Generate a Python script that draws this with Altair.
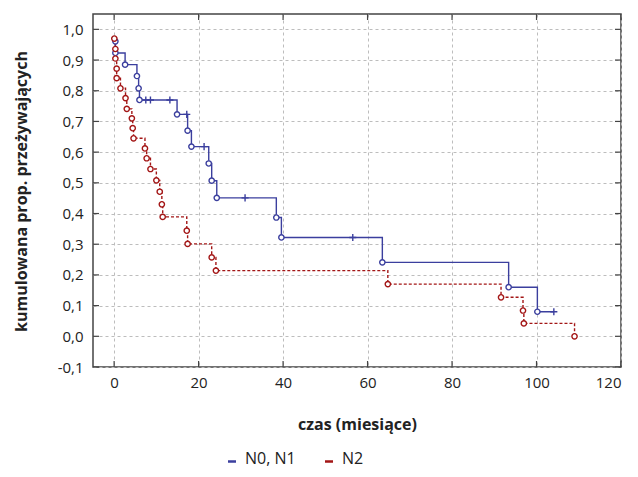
import altair as alt
import pandas as pd

# --- data (Kaplan-Meier curves) ---
groups = ["N0, N1", "N2"]
colors = ["#3b3f9e", "#a31616"]

blue_x = [0.3, 0.3, 2.6, 5.4, 5.8, 6.0, 7.5, 8.6, 13.2, 14.9, 17.2, 17.4, 18.3, 21.3,
          22.4, 23.1, 24.3, 31.0, 38.4, 39.6, 56.5, 63.5, 93.4, 100.2, 104.1]
blue_y = [0.961, 0.923, 0.885, 0.848, 0.808, 0.770, 0.770, 0.770, 0.770, 0.723, 0.723,
          0.670, 0.618, 0.618, 0.563, 0.507, 0.451, 0.451, 0.387, 0.322, 0.322, 0.241,
          0.160, 0.080, 0.080]
blue_kind = ["e", "e", "e", "e", "e", "e", "c", "c", "c", "e", "c", "e", "e", "c",
             "e", "e", "e", "c", "e", "e", "c", "e", "e", "e", "c"]

red_x = [0.05, 0.3, 0.3, 0.6, 0.6, 1.5, 2.7, 3.0, 4.2, 4.4, 4.6, 7.3, 7.7, 8.6, 10.0,
         10.8, 11.3, 11.5, 17.2, 17.4, 23.1, 24.1, 64.8, 91.6, 96.8, 97.0, 109.0]
red_y = [0.970, 0.936, 0.905, 0.872, 0.841, 0.808, 0.776, 0.741, 0.710, 0.678, 0.645,
         0.612, 0.580, 0.545, 0.508, 0.471, 0.430, 0.389, 0.344, 0.301, 0.257, 0.214,
         0.170, 0.127, 0.084, 0.042, 0.0]
red_kind = ["e"] * len(red_x)

x_ticks = [0, 20, 40, 60, 80, 100, 120]
y_ticks = [-0.1, 0.0, 0.1, 0.2, 0.3, 0.4, 0.5, 0.6, 0.7, 0.8, 0.9, 1.0]

rows = []
for i, (x, y, k) in enumerate(zip(blue_x, blue_y, blue_kind)):
    rows.append({"t": x, "s": y, "g": groups[0], "k": k, "i": i})
for i, (x, y, k) in enumerate(zip(red_x, red_y, red_kind)):
    rows.append({"t": x, "s": y, "g": groups[1], "k": k, "i": i})
df = pd.DataFrame(rows)

W, H = 528, 353
FONT = "Open Sans"
FRAME = "#444444"

xs = alt.Scale(domain=[-5, 120], nice=False, zero=False)
ys = alt.Scale(domain=[-0.1, 1.05], nice=False, zero=False)

x_axis = alt.Axis(values=x_ticks, grid=True, gridDash=[3, 3], gridColor="#bdbdbd",
                  gridWidth=1, domain=False, ticks=False, labelFontSize=15,
                  labelColor="#222222", labelPadding=8, labelFont=FONT,
                  titleFont=FONT, titleFontSize=16, titleFontWeight="bold",
                  titleColor="#222222", titleX=264, titleY=57,
                  titleBaseline="middle", titleAlign="center")
y_axis = alt.Axis(values=y_ticks, grid=True, gridDash=[3, 3], gridColor="#bdbdbd",
                  gridWidth=1, domain=False, ticks=False, labelFontSize=15,
                  labelColor="#222222", labelPadding=10, labelFont=FONT,
                  labelExpr="(datum.value < 0 ? '-' : '') + replace(format(abs(datum.value), '.1f'), '.', ',')",
                  titleFont=FONT, titleFontSize=16, titleFontWeight="bold",
                  titleColor="#222222", titleX=-72, titleY=177,
                  titleBaseline="middle", titleAlign="center", titleAngle=270)

X = alt.X("t:Q", scale=xs, axis=x_axis, title="czas (miesiące)")
Y = alt.Y("s:Q", scale=ys, axis=y_axis, title="kumulowana prop. przeżywających")

legend = alt.Legend(orient="none", legendX=131, legendY=437, direction="horizontal",
                    title=None, symbolType="M-1,0.6H1", symbolSize=64,
                    symbolStrokeWidth=2.5, symbolDash=[1, 0], labelFont=FONT,
                    labelFontSize=16, labelColor="#222222", columnPadding=24,
                    labelOffset=5)
C = alt.Color("g:N", scale=alt.Scale(domain=groups, range=colors), legend=legend)

base = alt.Chart(df)

line_blue = base.transform_filter(alt.datum.g == groups[0]).mark_line(
    interpolate="step-after", strokeWidth=1.4
).encode(x=X, y=Y, color=C, order="i:Q")

line_red = base.transform_filter(alt.datum.g == groups[1]).mark_line(
    interpolate="step-after", strokeWidth=1.4, strokeDash=[3, 2]
).encode(x=X, y=Y, color=C, order="i:Q")

events = base.transform_filter(alt.datum.k == "e").mark_point(
    shape="circle", filled=False, fill="white", size=28, strokeWidth=1.4, opacity=1
).encode(x=X, y=Y, color=C)

censored = base.transform_filter(alt.datum.k == "c").mark_point(
    shape="M0,-1V1M-1,0H1", filled=False, size=50, strokeWidth=1.4, opacity=1
).encode(x=X, y=Y, color=C)

xt = pd.DataFrame({"t": x_ticks})
yt = pd.DataFrame({"s": y_ticks})
tick_x_bottom = alt.Chart(xt).mark_rule(color=FRAME, strokeWidth=1.2).encode(
    x=X, y=alt.value(H), y2=alt.value(H - 6))
tick_x_top = alt.Chart(xt).mark_rule(color=FRAME, strokeWidth=1.2).encode(
    x=X, y=alt.value(0), y2=alt.value(6))
tick_y_left = alt.Chart(yt).mark_rule(color=FRAME, strokeWidth=1.2).encode(
    y=Y, x=alt.value(0), x2=alt.value(6))
tick_y_right = alt.Chart(yt).mark_rule(color=FRAME, strokeWidth=1.2).encode(
    y=Y, x=alt.value(W), x2=alt.value(W - 6))

chart = alt.layer(
    line_blue, line_red, events, censored,
    tick_x_bottom, tick_x_top, tick_y_left, tick_y_right
).properties(
    width=W, height=H,
    autosize=alt.AutoSizeParams(type="none"),
    padding={"left": 85, "top": 6, "right": 9, "bottom": 102},
    background="white",
).configure_view(stroke=FRAME, strokeWidth=1.5)

chart.save("out.html", embed_options={"renderer": "svg", "actions": False})
